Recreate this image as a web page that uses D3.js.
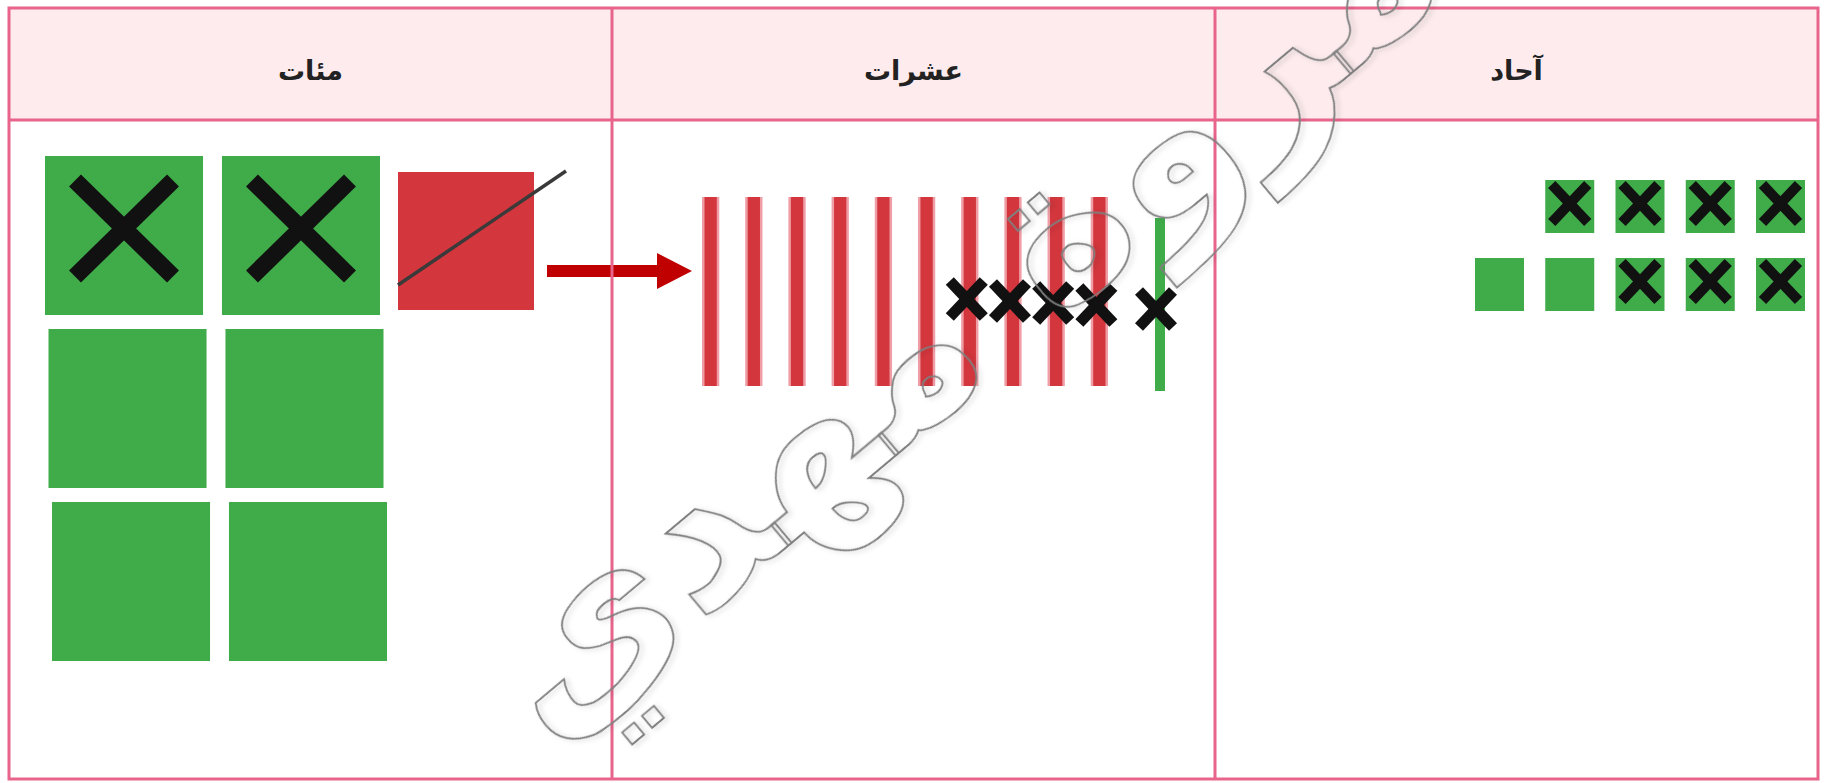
<!DOCTYPE html>
<html lang="ar">
<head>
<meta charset="utf-8">
<script src="https://cdn.jsdelivr.net/npm/d3@7/dist/d3.min.js"></script>
<style>
  html, body { margin: 0; padding: 0; background: #ffffff; }
  svg { display: block; }
</style>
</head>
<body>
<div id="chart"></div>
<script>
// ---------- DATA ----------
const columns = ["مئات", "عشرات", "آحاد"];          // header labels, left to right
const hundredsCrossed = [true, true, false, false, false, false]; // 6 green flats
const hundredsRegrouped = 1;                         // 1 red flat broken into tens
const tensCrossed = [false, false, false, false, false, false, true, true, true, true]; // 10 red rods
const tensExtraCrossed = [true];                     // 1 green rod
const onesRow1Crossed = [true, true, true, true];    // 4 unit cubes
const onesRow2Crossed = [false, false, true, true, true]; // 5 unit cubes
const watermarkText = "مروة مهدي";

// ---------- LAYOUT ----------
const W = 1827, H = 783;
const table = { left: 9, right: 1818, top: 8, headerBottom: 120, bottom: 779 };
const C = {
  border: "#e8648b", headerBg: "#fdebed", green: "#3fab49", red: "#d3363d",
  redEdge: "#ef9ea6", arrow: "#c00000", ink: "#111111", line: "#3a3a3a"
};

const svg = d3.select("#chart").append("svg")
  .attr("width", W).attr("height", H).attr("viewBox", `0 0 ${W} ${H}`);

const defs = svg.append("defs");
defs.append("filter").attr("id", "wmShadow").attr("x", "-10%").attr("y", "-10%").attr("width", "120%").attr("height", "120%")
  .append("feDropShadow").attr("dx", 2).attr("dy", 3).attr("stdDeviation", 2.5)
  .attr("flood-color", "#000").attr("flood-opacity", 0.18);

const xCol = d3.scaleBand().domain(columns).range([table.left, table.right]);

// header background
svg.append("rect")
  .attr("x", table.left).attr("y", table.top)
  .attr("width", table.right - table.left).attr("height", table.headerBottom - table.top)
  .attr("fill", C.headerBg);

// header labels
svg.selectAll("text.head").data(columns).join("text")
  .attr("class", "head")
  .attr("x", d => xCol(d) + xCol.bandwidth() / 2)
  .attr("y", 80)
  .attr("text-anchor", "middle")
  .attr("direction", "rtl")
  .attr("font-family", "'DejaVu Sans', sans-serif")
  .attr("font-weight", "bold")
  .attr("font-size", 27)
  .attr("fill", "#222")
  .text(d => d);

function drawX(g, cx, cy, hx, hy, sw) {
  g.append("line").attr("x1", cx - hx).attr("y1", cy - hy).attr("x2", cx + hx).attr("y2", cy + hy)
    .attr("stroke", C.ink).attr("stroke-width", sw).attr("stroke-linecap", "butt");
  g.append("line").attr("x1", cx + hx).attr("y1", cy - hy).attr("x2", cx - hx).attr("y2", cy + hy)
    .attr("stroke", C.ink).attr("stroke-width", sw).attr("stroke-linecap", "butt");
}

// ---------- HUNDREDS ----------
const gH = svg.append("g");
const hCols = d3.scaleBand().domain([0, 1]).range([45, 380]).paddingInner(0.107);
const hRows = d3.scaleBand().domain([0, 1, 2]).range([156, 661]).paddingInner(0.081);
const hItems = hundredsCrossed.map((c, i) => ({ crossed: c, row: Math.floor(i / 2), col: i % 2 }));
const hx = d => hCols(d.col) + d.row * 3.5;
gH.selectAll("rect.flat").data(hItems).join("rect")
  .attr("class", "flat")
  .attr("x", hx).attr("y", d => hRows(d.row))
  .attr("width", hCols.bandwidth()).attr("height", hRows.bandwidth())
  .attr("fill", C.green);
hItems.filter(d => d.crossed).forEach(d => {
  drawX(gH, hx(d) + hCols.bandwidth() / 2, hRows(d.row) + hRows.bandwidth() / 2 - 7, 49, 48, 17);
});
// regrouped red flat
d3.range(hundredsRegrouped).forEach(() => {
  const rx = hCols(1) + hCols.bandwidth() + 18, ry = 172, rw = 136, rh = 138;
  gH.append("rect").attr("x", rx).attr("y", ry).attr("width", rw).attr("height", rh).attr("fill", C.red);
  gH.append("line").attr("x1", rx).attr("y1", ry + 113).attr("x2", rx + 168).attr("y2", ry - 1)
    .attr("stroke", C.line).attr("stroke-width", 3.5);
  // arrow to tens
  gH.append("rect").attr("x", 547).attr("y", 265).attr("width", 112).attr("height", 12).attr("fill", C.arrow);
  gH.append("path").attr("d", d3.line()([[657, 253], [692, 271], [657, 289]]) + "Z").attr("fill", C.arrow);
});

// ---------- TENS ----------
const gT = svg.append("g");
const tX = d3.scaleBand().domain(d3.range(tensCrossed.length)).range([702, 1108]).paddingInner(0.6);
const rodTop = 197, rodBottom = 386;
gT.selectAll("rect.rodEdge").data(tensCrossed).join("rect")
  .attr("class", "rodEdge")
  .attr("x", (d, i) => tX(i)).attr("y", rodTop)
  .attr("width", tX.bandwidth()).attr("height", rodBottom - rodTop)
  .attr("fill", C.redEdge);
gT.selectAll("rect.rod").data(tensCrossed).join("rect")
  .attr("class", "rod")
  .attr("x", (d, i) => tX(i) + 2.5).attr("y", rodTop)
  .attr("width", tX.bandwidth() - 5).attr("height", rodBottom - rodTop)
  .attr("fill", C.red);
const gX = d3.scaleBand().domain(d3.range(tensExtraCrossed.length)).range([1155, 1165]);
gT.selectAll("rect.grod").data(tensExtraCrossed).join("rect")
  .attr("class", "grod")
  .attr("x", (d, i) => gX(i)).attr("y", 218)
  .attr("width", gX.bandwidth()).attr("height", 173)
  .attr("fill", C.green);
tensCrossed.forEach((c, i) => {
  if (c) drawX(gT, tX(i) + tX.bandwidth() / 2 - 3, 299 + (i - 6) * 2, 17, 18, 11);
});
tensExtraCrossed.forEach((c, i) => {
  if (c) drawX(gT, gX(i) + gX.bandwidth() / 2 - 4, 309, 17, 18, 11);
});

// ---------- ONES ----------
const gO = svg.append("g");
const oX = d3.scalePoint().domain(d3.range(5)).range([1499.5, 1780.5]);
const oRows = [
  { y: 180, crossed: onesRow1Crossed },
  { y: 258, crossed: onesRow2Crossed }
];
const cubeW = 49, cubeH = 53;
oRows.forEach(row => {
  const offset = 5 - row.crossed.length;
  row.crossed.forEach((c, i) => {
    const cx = oX(i + offset);
    gO.append("rect").attr("x", cx - cubeW / 2).attr("y", row.y)
      .attr("width", cubeW).attr("height", cubeH).attr("fill", C.green);
  });
});
oRows.forEach(row => {
  const offset = 5 - row.crossed.length;
  row.crossed.forEach((c, i) => {
    const cx = oX(i + offset);
    if (c) drawX(gO, cx, row.y + cubeH / 2 - 3, 18, 19, 10);
  });
});

// ---------- TABLE LINES ----------
const gL = svg.append("g").attr("stroke", C.border).attr("stroke-width", 3).attr("fill", "none");
gL.append("rect").attr("x", table.left).attr("y", table.top)
  .attr("width", table.right - table.left).attr("height", table.bottom - table.top);
gL.append("line").attr("x1", table.left).attr("x2", table.right)
  .attr("y1", table.headerBottom).attr("y2", table.headerBottom);
columns.slice(1).forEach(c => {
  gL.append("line").attr("x1", xCol(c)).attr("x2", xCol(c))
    .attr("y1", table.top).attr("y2", table.bottom);
});

// ---------- WATERMARK ----------
svg.append("text")
  .attr("transform", "translate(1000,368) rotate(-40)")
  .attr("text-anchor", "middle")
  .attr("direction", "rtl")
  .attr("font-family", "'DejaVu Sans', sans-serif")
  .attr("font-weight", "bold")
  .attr("font-size", 212)
  .attr("fill", "none")
  .attr("stroke", "#7f7f7f")
  .attr("stroke-width", 1.8)
  .attr("filter", "url(#wmShadow)")
  .text(watermarkText);
</script>
</body>
</html>
